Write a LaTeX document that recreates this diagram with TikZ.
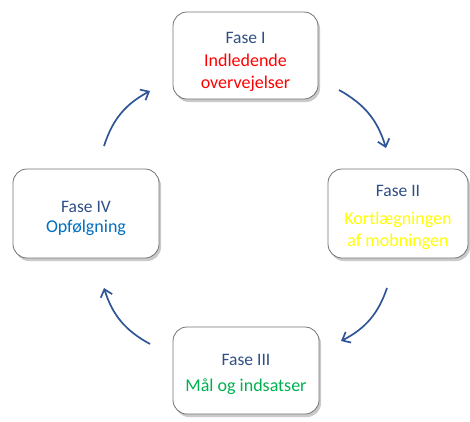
\documentclass[tikz,border=0pt]{standalone}
\usepackage{fontspec}
\setmainfont{Carlito}
\usetikzlibrary{shadows,arrows.meta}
\definecolor{fasecol}{HTML}{2F4F85}
\definecolor{arrowcol}{HTML}{2F5597}
\definecolor{redtxt}{HTML}{FF0000}
\definecolor{yellowtxt}{HTML}{FFFF00}
\definecolor{greentxt}{HTML}{00B050}
\definecolor{bluetxt}{HTML}{0070C0}
\tikzset{
  phasebox/.style={draw=black!55, line width=0.8pt, rounded corners=14pt, fill=white,
    drop shadow={shadow xshift=2pt, shadow yshift=-3pt, opacity=0.35, fill=black!60}},
  fasetxt/.style={text=fasecol, font=\fontsize{17.5}{21}\selectfont, inner sep=0pt},
  desctxt/.style={font=\fontsize{18}{22}\selectfont, inner sep=0pt, align=center},
  cyc/.style={draw=arrowcol, line width=1.7pt, -{Straight Barb[length=7pt,width=12pt,line width=1.7pt]}, bend left=22}
}
\begin{document}
\begin{tikzpicture}[x=1pt,y=-1pt]
\useasboundingbox (0,0) rectangle (470,421);
\path[phasebox] (173,12) rectangle (318,99);
\path[phasebox] (328,169) rectangle (468,258);
\path[phasebox] (173,327) rectangle (319,414);
\path[phasebox] (13,169) rectangle (159,258);
\node[fasetxt] (f1) at (245.5,38) {Fase I};
\node[desctxt, text=redtxt] (d1) at (245.5,73) {Indledende\\overvejelser};
\node[fasetxt] (f2) at (398,191) {Fase II};
\node[desctxt, text=yellowtxt] (d2) at (398,231) {Kortlægningen\\af mobningen};
\node[fasetxt] (f3) at (246,360) {Fase III};
\node[desctxt, text=greentxt] (d3) at (246,387) {Mål og indsatser};
\node[fasetxt] (f4) at (86,207) {Fase IV};
\node[desctxt, text=bluetxt] (d4) at (86,228) {Opfølgning};
\coordinate (a1s) at (339,90);
\coordinate (a1e) at (386,148);
\coordinate (a2s) at (387,288);
\coordinate (a2e) at (341,341);
\coordinate (a3s) at (150,344);
\coordinate (a3e) at (104,288);
\coordinate (a4s) at (104,146);
\coordinate (a4e) at (150,91);
\draw[cyc] (a1s) to (a1e);
\draw[cyc] (a2s) to (a2e);
\draw[cyc] (a3s) to (a3e);
\draw[cyc] (a4s) to (a4e);
\end{tikzpicture}
\end{document}
